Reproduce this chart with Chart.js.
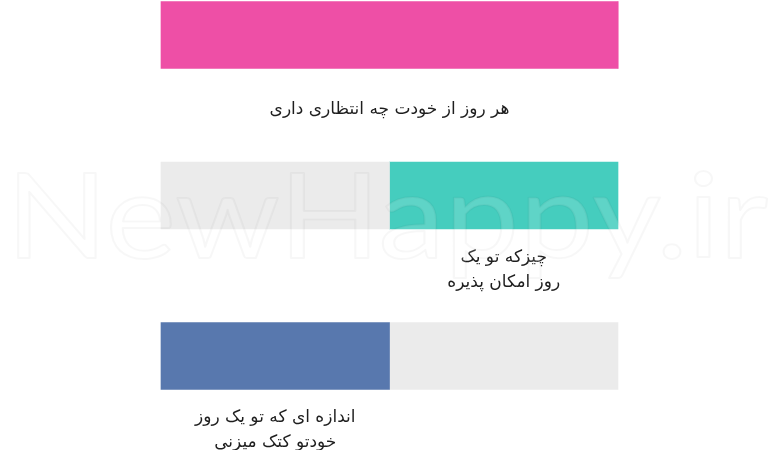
<!DOCTYPE html>
<html>
<head>
<meta charset="utf-8">
<script src="https://cdn.jsdelivr.net/npm/chart.js@4"></script>
<style>
  body { margin: 0; background: #fff; }
  #wrap { width: 780px; height: 450px; }
</style>
</head>
<body>
<div id="wrap"><canvas id="myChart" width="780" height="450"></canvas></div>
<script>
// rows, top to bottom
var categories = ['row1', 'row2', 'row3'];
var rowLabels = [
    ['هر روز از خودت چه انتظاری داری'],
    ['چیزکه تو یک', 'روز امکان پذیره'],
    ['اندازه ای که تو یک روز', 'خودتو کتک میزنی']
];
// left part and right part of each bar (percent)
var leftPart = [100, 50, 50];
var rightPart = [0, 50, 50];

var grey = '#ebebeb';
var leftColors = ['#ee4fa6', grey, '#5878ae'];
var rightColors = ['#ee4fa6', '#45cdbe', grey];

// text under the coloured piece of each bar
var rowText = {
    id: 'rowText',
    afterDatasetsDraw: function(chart) {
        var ctx = chart.ctx;
        var m0 = chart.getDatasetMeta(0);
        var m1 = chart.getDatasetMeta(1);
        ctx.save();
        ctx.font = '17px "DejaVu Sans"';
        ctx.fillStyle = '#1e1e1e';
        ctx.textAlign = 'center';
        ctx.textBaseline = 'middle';
        ctx.direction = 'rtl';
        for (var i = 0; i < categories.length; i++) {
            var bar = leftColors[i] != grey ? m0.data[i] : m1.data[i];
            if (rightPart[i] > 0 && rightColors[i] != grey) bar = m1.data[i];
            var p = bar.getProps(['x', 'y', 'base', 'height'], true);
            var cx = (p.x + p.base) / 2;
            var lines = rowLabels[i];
            var lh = 25;
            var top = p.y + p.height / 2 + 41 - (lines.length - 1) * lh / 2;
            for (var j = 0; j < lines.length; j++) {
                ctx.fillText(lines[j], cx, top + j * lh);
            }
        }
        ctx.restore();
    },
    afterDraw: function(chart) {
        // faint watermark
        var ctx = chart.ctx;
        ctx.save();
        ctx.font = '400 118px Lato';
        var w = ctx.measureText('NewHappy.ir').width;
        ctx.translate(6, 258);
        ctx.scale(762 / w, 1);
        ctx.textAlign = 'left';
        ctx.textBaseline = 'alphabetic';
        ctx.fillStyle = 'rgba(255,255,255,0.14)';
        ctx.strokeStyle = 'rgba(0,0,0,0.03)';
        ctx.lineWidth = 2;
        ctx.lineJoin = 'round';
        ctx.fillText('NewHappy.ir', 0, 0);
        ctx.strokeText('NewHappy.ir', 0, 0);
        ctx.restore();
    }
};

var ctx = document.getElementById('myChart').getContext('2d');
var myChart = new Chart(ctx, {
    type: 'bar',
    data: {
        labels: categories,
        datasets: [{
            data: leftPart,
            backgroundColor: leftColors,
            borderWidth: 0,
            barThickness: 67,
            clip: false
        }, {
            data: rightPart,
            backgroundColor: rightColors,
            borderWidth: 0,
            barThickness: 67,
            clip: false
        }]
    },
    options: {
        responsive: false,
        animation: false,
        indexAxis: 'y',
        layout: { padding: { left: 161, right: 162, top: 35, bottom: 94 } },
        plugins: { legend: { display: false }, tooltip: { enabled: false } },
        scales: {
            x: { stacked: true, min: 0, max: 100, display: false },
            y: { stacked: true, offset: false, display: false }
        }
    },
    plugins: [rowText]
});
</script>
</body>
</html>
